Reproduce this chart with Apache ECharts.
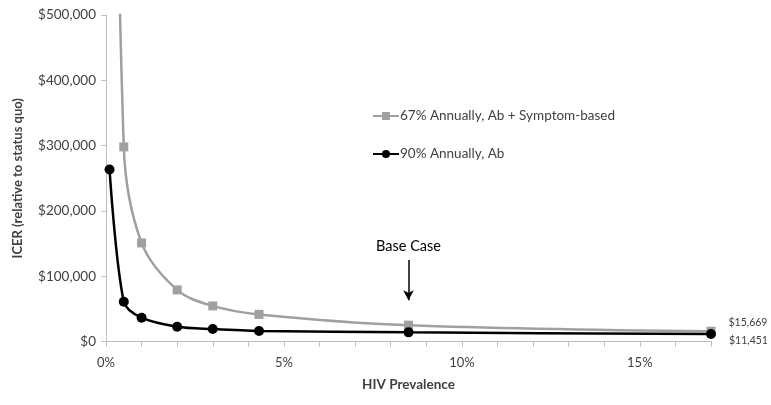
<!DOCTYPE html>
<html>
<head>
<meta charset="utf-8">
<script src="https://cdn.jsdelivr.net/npm/echarts@6/dist/echarts.min.js"></script>
<style>html,body{margin:0;padding:0;background:#fff}#c{width:771px;height:405px}</style>
</head>
<body>
<div id="c"></div>
<script>
const prevalence = [0.1, 0.5, 1, 2, 3, 4.3, 8.5, 17];
const grayName = '67% Annually, Ab + Symptom-based';
const blackName = '90% Annually, Ab';
const grayValues = [1600000, 298000, 151000, 79000, 54500, 41500, 25000, 15669];
const blackValues = [263500, 61000, 36500, 22700, 19100, 16100, 14000, 11451];
const yTicks = [0, 100000, 200000, 300000, 400000, 500000];
const xLabelTicks = [0, 5, 10, 15];
const baseCase = {x: 8.5, from: 125000, to: 63000, text: 'Base Case'};

const F = 'Lato, "Open Sans", sans-serif';
const fmtMoney = v => '$' + Math.round(v).toLocaleString('en-US');
const pair = vals => prevalence.map((x, i) => [x, vals[i]]);

const chart = echarts.init(document.getElementById('c'), null, {renderer: 'canvas'});
chart.setOption({
  animation: false,
  backgroundColor: '#fff',
  grid: {left: 106, right: 60, top: 15, bottom: 63.5, containLabel: false},
  legend: {
    orient: 'vertical', left: 367, top: 104, itemGap: 24, itemWidth: 26, itemHeight: 10,
    textStyle: {fontFamily: F, fontSize: 13.5, color: '#404040', padding: [0, 0, 0, -4]},
    data: [grayName, blackName]
  },
  xAxis: {
    type: 'value', min: 0, max: 17, interval: 1,
    name: 'HIV Prevalence', nameLocation: 'middle', nameGap: 36,
    nameTextStyle: {fontFamily: F, fontSize: 13.5, fontWeight: 'bold', color: '#404040'},
    axisLine: {show: true, lineStyle: {color: '#bfbfbf', width: 1}},
    axisTick: {show: true, inside: false, length: 5, lineStyle: {color: '#bfbfbf'}},
    splitLine: {show: false},
    axisLabel: {
      margin: 15, fontFamily: F, fontSize: 13, color: '#404040',
      formatter: v => xLabelTicks.includes(v) ? v + '%' : ''
    }
  },
  yAxis: {
    type: 'value', min: yTicks[0], max: yTicks[yTicks.length - 1], interval: 100000,
    name: 'ICER (relative to status quo)', nameLocation: 'middle', nameGap: 82, nameRotate: 90,
    nameTextStyle: {fontFamily: F, fontSize: 13, fontWeight: 'bold', color: '#404040'},
    axisLine: {show: true, lineStyle: {color: '#bfbfbf', width: 1}},
    axisTick: {show: true, inside: false, length: 5, lineStyle: {color: '#bfbfbf'}},
    splitLine: {show: false},
    axisLabel: {margin: 10, fontFamily: F, fontSize: 13.5, color: '#404040', formatter: fmtMoney}
  },
  series: [
    {
      name: grayName, type: 'line', data: pair(grayValues), smooth: 0.35, clip: true,
      symbol: 'rect', symbolSize: 9,
      itemStyle: {color: '#a0a0a0'}, lineStyle: {color: '#a0a0a0', width: 2.5},
      label: {
        show: true, fontFamily: F, fontSize: 10.5, color: '#404040', position: 'right', offset: [8, -9],
        formatter: p => p.dataIndex === prevalence.length - 1 ? fmtMoney(p.value[1]) : ''
      },
      z: 2
    },
    {
      name: blackName, type: 'line', data: pair(blackValues), smooth: 0.3, clip: true,
      symbol: 'circle', symbolSize: 10,
      itemStyle: {color: '#000'}, lineStyle: {color: '#000', width: 2.5},
      label: {
        show: true, fontFamily: F, fontSize: 10.5, color: '#404040', position: 'right', offset: [8, 7],
        formatter: p => p.dataIndex === prevalence.length - 1 ? fmtMoney(p.value[1]) : ''
      },
      markLine: {
        silent: true, symbol: ['none', 'arrow'], symbolSize: [8, 10],
        lineStyle: {color: '#000', width: 1.5, type: 'solid'},
        label: {show: true, position: 'start', formatter: baseCase.text, fontFamily: F, fontSize: 14.5, color: '#000', distance: 6},
        data: [[{coord: [baseCase.x, baseCase.from]}, {coord: [baseCase.x, baseCase.to]}]]
      },
      z: 3
    }
  ]
});
</script>
</body>
</html>
